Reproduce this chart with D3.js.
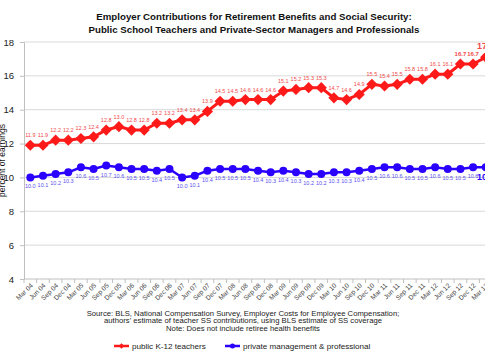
<!DOCTYPE html>
<html>
<head>
<meta charset="utf-8">
<script src="https://cdn.jsdelivr.net/npm/d3@7"></script>
<style>
  body { margin: 0; background: #fff; }
  svg { display: block; font-family: "Liberation Sans", Arial, sans-serif; }
</style>
</head>
<body>
<div id="chart"></div>
<script>
(function(){
    // quarters Mar 04 .. Mar 13
    const quarters = [
        "Mar 04","Jun 04","Sep 04","Dec 04","Mar 05","Jun 05","Sep 05","Dec 05",
        "Mar 06","Jun 06","Sep 06","Dec 06","Mar 07","Jun 07","Sep 07","Dec 07",
        "Mar 08","Jun 08","Sep 08","Dec 08","Mar 09","Jun 09","Sep 09","Dec 09",
        "Mar 10","Jun 10","Sep 10","Dec 10","Mar 11","Jun 11","Sep 11","Dec 11",
        "Mar 12","Jun 12","Sep 12","Dec 12","Mar 13"
    ];
    const teachers = [
        11.9, 11.9, 12.2, 12.2, 12.3, 12.4, 12.8, 13.0,
        12.8, 12.8, 13.2, 13.2, 13.4, 13.4, 13.9, 14.5,
        14.5, 14.6, 14.6, 14.6, 15.1, 15.2, 15.3, 15.3,
        14.7, 14.6, 14.9, 15.5, 15.4, 15.5, 15.8, 15.8,
        16.1, 16.1, 16.7, 16.7, 17.1
    ];
    const privateMgmt = [
        10.0, 10.1, 10.2, 10.3, 10.6, 10.5, 10.7, 10.6,
        10.5, 10.5, 10.4, 10.5, 10.0, 10.1, 10.4, 10.5,
        10.5, 10.5, 10.4, 10.3, 10.4, 10.3, 10.2, 10.2,
        10.3, 10.3, 10.4, 10.5, 10.6, 10.6, 10.5, 10.5,
        10.6, 10.5, 10.5, 10.6, 10.6
    ];
    const yTicks = [4, 6, 8, 10, 12, 14, 16, 18];

    const width = 485, height = 360;
    const left = 24, top = 42, bottom = 279;
    const bandW = 12.65;

    const svg = d3.select("#chart").append("svg")
        .attr("width", width)
        .attr("height", height);

    const x = d3.scaleBand()
        .domain(quarters)
        .range([left, left + quarters.length * bandW]);
    const y = d3.scaleLinear()
        .domain([4, 18])
        .range([bottom, top]);
    const cx = d => x(d) + x.bandwidth() / 2;

    // title
    const title = svg.append("text")
        .attr("text-anchor", "middle")
        .attr("font-size", 9.7)
        .attr("font-weight", "bold")
        .attr("fill", "#111");
    title.append("tspan").attr("x", 254).attr("y", 20)
        .text("Employer Contributions for Retirement Benefits and Social Security:");
    title.append("tspan").attr("x", 254).attr("y", 33)
        .text("Public School Teachers and Private-Sector Managers and Professionals");

    // gridlines
    svg.append("g").selectAll("line")
        .data(yTicks.filter(t => t > 4))
        .enter().append("line")
        .attr("x1", left).attr("x2", width)
        .attr("y1", d => y(d)).attr("y2", d => y(d))
        .attr("stroke", "#d9d9d9")
        .attr("stroke-width", 1);

    // y axis
    const yAxis = svg.append("g")
        .attr("transform", `translate(${left},0)`)
        .call(d3.axisLeft(y).tickValues(yTicks).tickSize(4).tickPadding(6));
    yAxis.select(".domain").attr("stroke", "#bfbfbf");
    yAxis.selectAll(".tick line").attr("stroke", "#bfbfbf");
    yAxis.selectAll(".tick text")
        .attr("font-size", 9.5)
        .attr("font-family", "Liberation Sans, Arial, sans-serif")
        .attr("fill", "#222");

    svg.append("text")
        .attr("transform", `translate(5,${(top + bottom) / 2}) rotate(-90)`)
        .attr("text-anchor", "middle")
        .attr("font-size", 8.5)
        .attr("fill", "#111")
        .text("percent of earnings");

    // x axis
    svg.append("line")
        .attr("x1", left).attr("x2", width)
        .attr("y1", bottom).attr("y2", bottom)
        .attr("stroke", "#bfbfbf");
    svg.append("g").selectAll("line")
        .data(quarters)
        .enter().append("line")
        .attr("x1", d => x(d)).attr("x2", d => x(d))
        .attr("y1", bottom).attr("y2", bottom + 4)
        .attr("stroke", "#bfbfbf");
    svg.append("g").selectAll("text")
        .data(quarters)
        .enter().append("text")
        .attr("transform", d => `translate(${cx(d) + 3},${bottom + 7}) rotate(-45)`)
        .attr("text-anchor", "end")
        .attr("font-size", 6.6)
        .attr("fill", "#444")
        .text(d => d);

    // lines
    const line = vals => d3.line()
        .x((d, i) => cx(quarters[i]))
        .y(d => y(d))(vals);

    svg.append("path")
        .attr("d", line(teachers))
        .attr("fill", "none")
        .attr("stroke", "#ff1a1a")
        .attr("stroke-width", 3);
    svg.append("path")
        .attr("d", line(privateMgmt))
        .attr("fill", "none")
        .attr("stroke", "#2a00ff")
        .attr("stroke-width", 2.5);

    const diamond = d3.symbol().type(d3.symbolDiamond2).size(80);
    svg.append("g").selectAll("path")
        .data(teachers)
        .enter().append("path")
        .attr("d", diamond)
        .attr("transform", (d, i) => `translate(${cx(quarters[i])},${y(d)})`)
        .attr("fill", "#ff1a1a");
    svg.append("g").selectAll("circle")
        .data(privateMgmt)
        .enter().append("circle")
        .attr("cx", (d, i) => cx(quarters[i]))
        .attr("cy", d => y(d))
        .attr("r", 4)
        .attr("fill", "#2a00ff");

    // data labels
    const last = quarters.length - 1;
    svg.append("g").selectAll("text")
        .data(teachers)
        .enter().append("text")
        .attr("x", (d, i) => cx(quarters[i]))
        .attr("y", d => y(d) - 8)
        .attr("text-anchor", "middle")
        .attr("font-size", (d, i) => i === last ? 9 : i >= 34 ? 6 : 5.5)
        .attr("font-weight", (d, i) => i >= 34 ? "bold" : "normal")
        .attr("fill", "#f24a4a")
        .text(d => d.toFixed(1));
    svg.append("g").selectAll("text")
        .data(privateMgmt)
        .enter().append("text")
        .attr("x", (d, i) => cx(quarters[i]))
        .attr("y", (d, i) => y(d) + (i === last ? 13 : 11))
        .attr("text-anchor", "middle")
        .attr("font-size", (d, i) => i === last ? 9 : 5.5)
        .attr("font-weight", (d, i) => i === last ? "bold" : "normal")
        .attr("fill", (d, i) => i === last ? "#2a00ff" : "#5a50f0")
        .text(d => d.toFixed(1));

    // source note
    const notes = [
        "Source:  BLS, National Compensation Survey,  Employer Costs for Employee Compensation;",
        "authors' estimate of teacher SS contributions, using BLS estimate of SS coverage",
        "Note:  Does not include retiree health benefits"
    ];
    svg.append("g").selectAll("text")
        .data(notes)
        .enter().append("text")
        .attr("x", 243)
        .attr("y", (d, i) => 315.5 + i * 7.6)
        .attr("text-anchor", "middle")
        .attr("font-size", 7.7)
        .attr("fill", "#222")
        .text(d => d);

    // legend
    const legend = [
        { name: "public K-12 teachers", color: "#ff1a1a", x: 114, marker: "diamond" },
        { name: "private management & professional", color: "#2a00ff", x: 225, marker: "circle" }
    ];
    const lg = svg.append("g").selectAll("g")
        .data(legend)
        .enter().append("g")
        .attr("transform", d => `translate(${d.x},346)`);
    lg.append("line")
        .attr("x1", 0).attr("x2", 15)
        .attr("stroke", d => d.color)
        .attr("stroke-width", 2.5);
    lg.append("path")
        .attr("d", d => d.marker === "diamond"
            ? d3.symbol().type(d3.symbolDiamond2).size(20)()
            : d3.symbol().type(d3.symbolCircle).size(20)())
        .attr("transform", "translate(7.5,0)")
        .attr("fill", d => d.color);
    lg.append("text")
        .attr("x", 18)
        .attr("y", 3)
        .attr("font-size", 8.1)
        .attr("fill", "#222")
        .text(d => d.name);
})();
</script>
</body>
</html>
